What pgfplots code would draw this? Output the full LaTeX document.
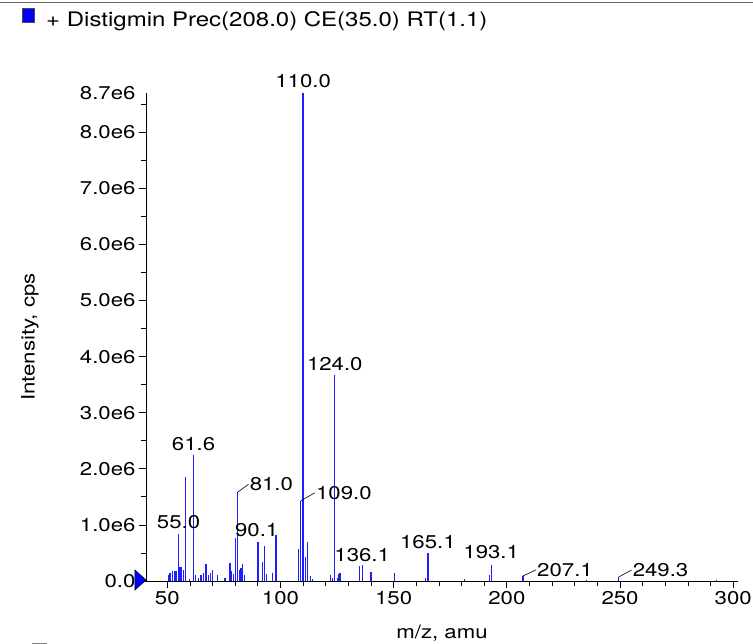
\documentclass[border=0pt]{standalone}
\usepackage{pgfplots}
\pgfplotsset{compat=1.18}
\usepackage{fontspec}
\setmainfont{TeX Gyre Heros}[FakeStretch=1.2]
\definecolor{specblue}{RGB}{30,30,255}
\pgfplotstableread{
mz inten
50.4 0.10e6
51.2 0.15e6
52.4 0.18e6
53.1 0.18e6
53.8 0.17e6
55.0 0.84e6
55.6 0.25e6
56.3 0.25e6
57.1 0.20e6
58.0 1.86e6
59.7 0.03e6
61.6 2.24e6
62.4 0.10e6
63.7 0.06e6
64.9 0.10e6
65.9 0.14e6
67.1 0.30e6
68.3 0.10e6
69.0 0.14e6
69.9 0.20e6
72.1 0.10e6
75.5 0.05e6
77.7 0.32e6
78.4 0.18e6
79.2 0.12e6
80.0 0.77e6
81.0 1.58e6
81.8 0.20e6
82.6 0.24e6
83.3 0.30e6
84.0 0.10e6
90.1 0.69e6
92.1 0.33e6
92.8 0.63e6
93.9 0.12e6
96.4 0.14e6
98.0 0.82e6
107.9 0.57e6
109.0 1.43e6
110.0 8.70e6
111.1 0.42e6
111.8 0.69e6
113.3 0.09e6
114.2 0.04e6
122.2 0.10e6
122.9 0.06e6
124.0 3.67e6
125.1 0.06e6
125.8 0.12e6
126.3 0.14e6
134.8 0.27e6
136.1 0.28e6
140.0 0.16e6
150.3 0.15e6
164.1 0.05e6
165.1 0.50e6
181.4 0.03e6
192.2 0.10e6
193.1 0.29e6
207.1 0.09e6
235.2 0.02e6
249.3 0.07e6
292.7 0.02e6
}\spectrum
\begin{document}
\begin{tikzpicture}[x=1pt,y=1pt]
\path[use as bounding box] (0,0) rectangle (753,-644);
\draw[black!60, line width=1.5pt] (0,-2.5) -- (753,-2.5);
\filldraw[fill=blue, draw=black!70, line width=0.6pt] (22,-8.5) rectangle (34.5,-22);
\node[anchor=base west, inner sep=0, font=\fontsize{20}{23}\selectfont] at (46,-27) {+ Distigmin Prec(208.0) CE(35.0) RT(1.1)};
\draw[black!50, line width=1pt] (32,-643.5) -- (47,-643.5);
\begin{axis}[
  at={(146pt,-581pt)}, anchor=south west, scale only axis,
  width=592pt, height=488pt,
  xmin=40.6, xmax=302.1, ymin=0, ymax=8.7e6,
  clip=false,
  axis lines=left, axis line style={-, line width=0.8pt},
  tick align=outside, major tick length=7pt, minor tick length=4.5pt,
  tick style={black, line width=0.8pt},
  xtick={50,100,150,200,250,300},
  xticklabels={50,100,150,200,250,300},
  minor xtick={60,70,80,90,110,120,130,140,160,170,180,190,210,220,230,240,260,270,280,290},
  ytick={0,1e6,2e6,3e6,4e6,5e6,6e6,7e6,8e6},
  yticklabels={0.0,1.0e6,2.0e6,3.0e6,4.0e6,5.0e6,6.0e6,7.0e6,8.0e6},
  extra y ticks={8.7e6}, extra y tick labels={8.7e6},
  extra y tick style={tick style={draw=none}},
  minor ytick={0.5e6,1.5e6,2.5e6,3.5e6,4.5e6,5.5e6,6.5e6,7.5e6,8.5e6},
  scaled y ticks=false, scaled x ticks=false,
  /pgf/number format/assume math mode=true,
  ticklabel style={font=\fontsize{18.5}{20}\selectfont},
  xlabel={m/z, amu}, ylabel={Intensity, cps},
  label style={font=\fontsize{18.5}{20}\selectfont},
  xlabel style={at={(axis description cs:0.5,-0.1168)}, anchor=base},
  ylabel style={at={(axis description cs:-0.196,0.5)}, anchor=center},
]
\addplot[ycomb, draw=specblue, line width=1.3pt, no marks] table[x=mz, y=inten] {\spectrum};
\begin{scope}[every node/.style={font=\fontsize{18.5}{20}\selectfont, inner sep=0}]
\node[anchor=south, yshift=5pt] at (axis cs:110.0,8.7e6) {110.0};
\node[anchor=south, yshift=4.5pt] at (axis cs:124.0,3.67e6) {124.0};
\node[anchor=south, yshift=4pt] at (axis cs:61.6,2.24e6) {61.6};
\node[anchor=south, yshift=5pt] at (axis cs:55.0,0.84e6) {55.0};
\node[anchor=south, yshift=5pt] at (axis cs:89.5,0.69e6) {90.1};
\node[anchor=south, yshift=3.5pt] at (axis cs:136.1,0.28e6) {136.1};
\node[anchor=south, yshift=4pt] at (axis cs:165.1,0.50e6) {165.1};
\node[anchor=south, yshift=5.5pt] at (axis cs:193.1,0.29e6) {193.1};
\draw[line width=0.6pt] (axis cs:81.0,1.58e6) -- ++(11pt,8pt) node[anchor=west, xshift=1pt] {81.0};
\draw[line width=0.6pt] (axis cs:109.0,1.43e6) -- ++(14pt,8pt) node[anchor=west, xshift=1pt] {109.0};
\draw[line width=0.6pt] (axis cs:207.1,0.09e6) -- ++(13pt,6pt) node[anchor=west, xshift=1pt] {207.1};
\draw[line width=0.6pt] (axis cs:249.3,0.07e6) -- ++(13pt,7pt) node[anchor=west, xshift=1pt] {249.3};
\end{scope}
\filldraw[fill=blue, draw=black, line width=0.5pt] (rel axis cs:0,0) ++(-11pt,11pt) -- ++(11pt,-10pt) -- ++(-11pt,-10pt) -- cycle;
\end{axis}
\end{tikzpicture}
\end{document}
